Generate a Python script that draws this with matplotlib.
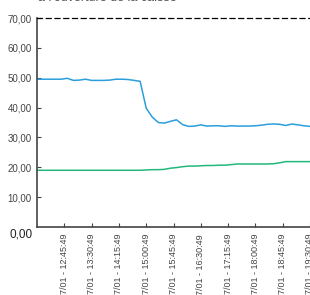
import matplotlib
matplotlib.use("Agg")
import matplotlib.pyplot as plt
import matplotlib.dates as mdates
import pandas as pd

plt.rcParams["font.family"] = ["Liberation Sans", "DejaVu Sans"]

# 10-minute samples, 17/01 from 12:00:49 to 19:30:49
times = pd.date_range("2023-01-17 12:00:49", periods=46, freq="10min")

blue_values = [
    49.5, 49.5, 49.5, 49.5, 49.5, 49.8, 49.1, 49.2, 49.5, 49.1,
    49.1, 49.1, 49.2, 49.5, 49.5, 49.4, 49.1, 48.8, 39.8, 36.8,
    35.0, 34.8, 35.4, 35.9, 34.3, 33.7, 33.8, 34.2, 33.8, 33.9,
    33.9, 33.7, 33.9, 33.8, 33.8, 33.8, 33.9, 34.1, 34.4, 34.5,
    34.4, 34.0, 34.5, 34.2, 33.9, 33.7,
]
green_values = [
    19.0, 19.0, 19.0, 19.0, 19.0, 19.0, 19.0, 19.0, 19.0, 19.0,
    19.0, 19.0, 19.0, 19.0, 19.0, 19.0, 19.0, 19.0, 19.1, 19.2,
    19.2, 19.3, 19.7, 19.9, 20.2, 20.4, 20.4, 20.5, 20.6, 20.6,
    20.7, 20.7, 20.9, 21.1, 21.1, 21.1, 21.1, 21.1, 21.1, 21.2,
    21.5, 21.9, 21.9, 21.9, 21.9, 21.9,
]
tick_times = pd.date_range("2023-01-17 12:45:49", periods=10, freq="45min")
y_ticks = [10, 20, 30, 40, 50, 60, 70]
title = "à l'ouverture de la caisse"

fig = plt.figure(figsize=(3.1, 2.95), dpi=100)
ax = fig.add_axes([37 / 310, 68 / 295, 273 / 310, 209 / 295])

ax.plot(times, blue_values, color="#2a9fdc", lw=1.1)
ax.plot(times, green_values, color="#22b97a", lw=1.1)

ax.set_xlim(times[0], times[-1])
ax.set_ylim(0, 70)

ax.spines["right"].set_visible(False)
ax.spines["top"].set_linestyle((0, (4, 3)))
ax.spines["top"].set_color("black")
ax.spines["top"].set_linewidth(0.9)
for side in ("left", "bottom"):
    ax.spines[side].set_color("#444444")
    ax.spines[side].set_linewidth(1.2)

ax.set_yticks(y_ticks)
ax.set_yticklabels([f"{v},00" for v in y_ticks])
ax.set_xticks(tick_times)
ax.xaxis.set_major_formatter(mdates.DateFormatter("%d/%m - %H:%M:%S"))
ax.tick_params(axis="y", direction="in", length=3, width=0.8, colors="#444444",
               labelsize=7, labelcolor="#444444", pad=4)
ax.tick_params(axis="x", direction="in", length=3, width=0.8, colors="#444444",
               labelsize=6.5, labelcolor="#444444", pad=5, labelrotation=90)
for lbl in ax.get_xticklabels():
    lbl.set_va("top")

# the zero label sits a little below the axis, larger than the others
ax.text(-0.015, -0.005, "0,00", transform=ax.transAxes, ha="right", va="top",
        fontsize=8.5, color="#222222")

# title mostly cropped off the top of the image
fig.text(38 / 310, 1 - 1 / 295, title, ha="left", va="baseline", fontsize=9,
         color="#555555")

fig.savefig("out.png", dpi=100, facecolor="white")
